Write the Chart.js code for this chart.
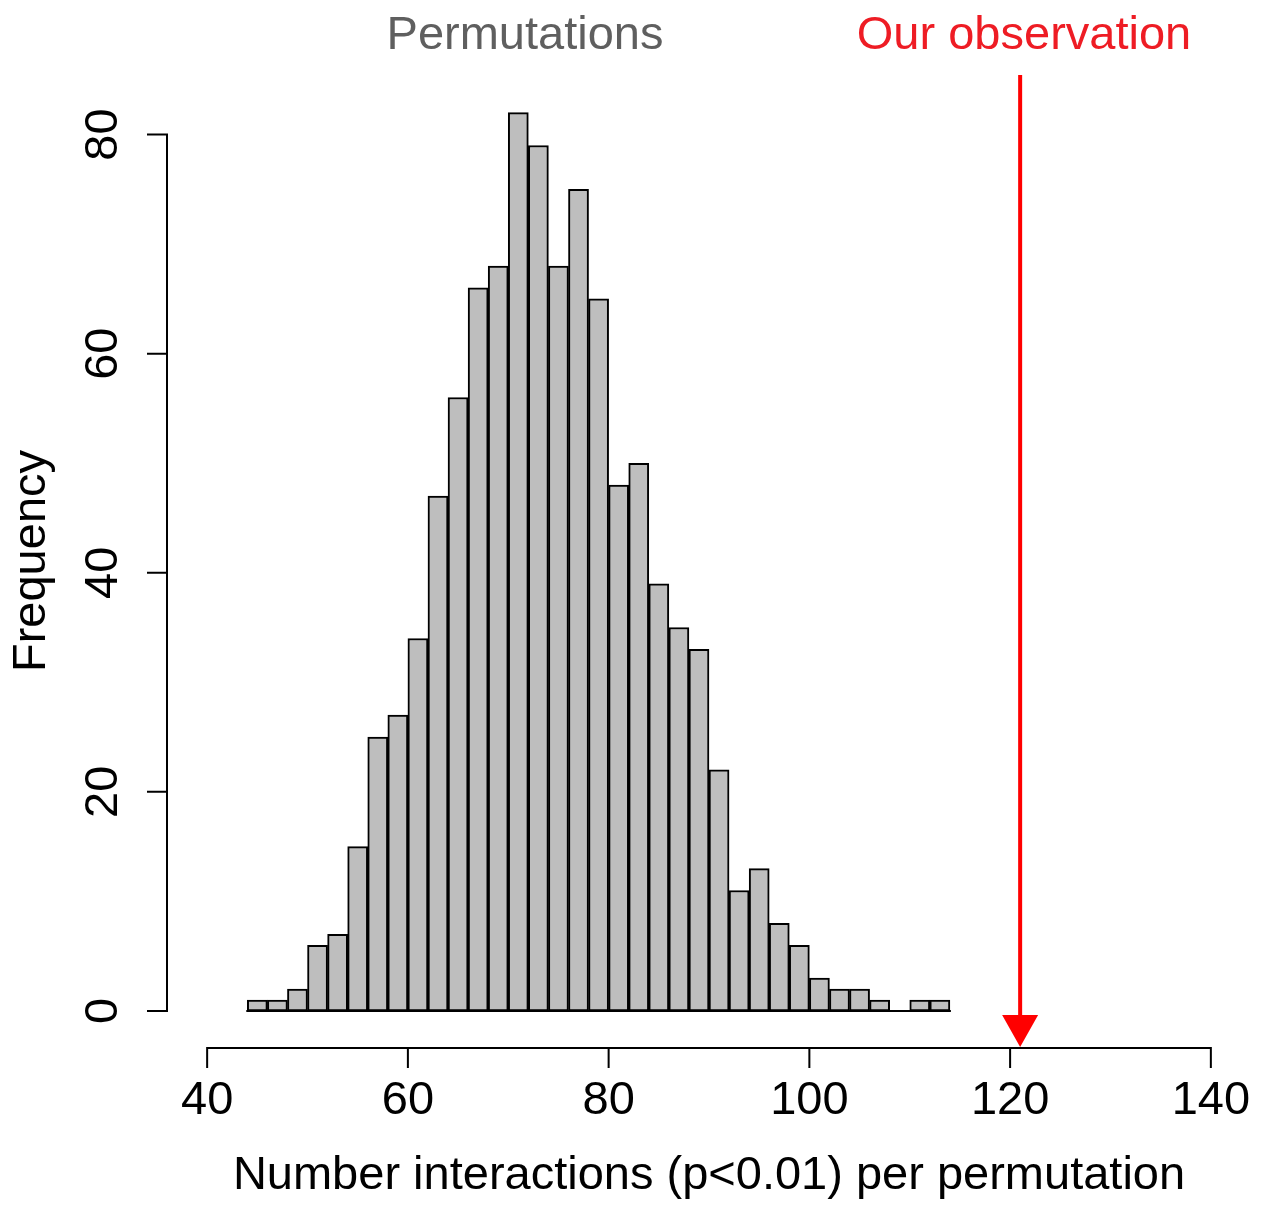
<!DOCTYPE html>
<html>
<head>
<meta charset="utf-8">
<title>Permutation histogram</title>
<script src="https://cdn.jsdelivr.net/npm/chart.js@4"></script>
<style>
  html, body { margin: 0; padding: 0; background: #fff; }
  #wrap { width: 1264px; height: 1214px; }
</style>
</head>
<body>
<div id="wrap"><canvas id="hist" width="1264" height="1214"></canvas></div>
<script>
// histogram bins (width 2) and their counts
const binStarts = [44, 46, 48, 50, 52, 54, 56, 58, 60, 62, 64, 66, 68, 70, 72, 74, 76, 78,
                   80, 82, 84, 86, 88, 90, 92, 94, 96, 98, 100, 102, 104, 106, 108, 110, 112];
const counts = [1, 1, 2, 6, 7, 15, 25, 27, 34, 47, 56, 66, 68, 82, 79, 68, 75, 65,
                48, 50, 39, 35, 33, 22, 11, 13, 8, 6, 3, 2, 2, 1, 0, 1, 1];
const binWidth = 2;

const xTicks = [40, 60, 80, 100, 120, 140];
const yTicks = [0, 20, 40, 60, 80];

const observed = 121;

const FONT = '"Liberation Sans", Arial, sans-serif';

// R-style detached axes, labels and the observation arrow
const baseAxes = {
    id: 'baseAxes',
    afterDraw(chart) {
        const ctx = chart.ctx;
        const xs = chart.scales.x;
        const ys = chart.scales.y;
        const area = chart.chartArea;
        const tick = 19;

        ctx.save();
        ctx.strokeStyle = '#000';
        ctx.fillStyle = '#000';
        ctx.lineWidth = 2;
        ctx.lineCap = 'square';

        // baseline under the bars (shows empty bins too)
        const y0 = ys.getPixelForValue(0);
        ctx.beginPath();
        ctx.moveTo(xs.getPixelForValue(binStarts[0]), y0);
        ctx.lineTo(xs.getPixelForValue(binStarts[binStarts.length - 1] + binWidth), y0);
        ctx.stroke();

        // x axis
        const xa = area.bottom;
        ctx.beginPath();
        ctx.moveTo(xs.getPixelForValue(xTicks[0]), xa);
        ctx.lineTo(xs.getPixelForValue(xTicks[xTicks.length - 1]), xa);
        xTicks.forEach(v => {
            const px = xs.getPixelForValue(v);
            ctx.moveTo(px, xa);
            ctx.lineTo(px, xa + tick);
        });
        ctx.stroke();

        ctx.font = '47px ' + FONT;
        ctx.textAlign = 'center';
        ctx.textBaseline = 'middle';
        xTicks.forEach(v => ctx.fillText(String(v), xs.getPixelForValue(v), 1101));

        // y axis
        const ya = area.left;
        ctx.beginPath();
        ctx.moveTo(ya, ys.getPixelForValue(yTicks[0]));
        ctx.lineTo(ya, ys.getPixelForValue(yTicks[yTicks.length - 1]));
        yTicks.forEach(v => {
            const py = ys.getPixelForValue(v);
            ctx.moveTo(ya, py);
            ctx.lineTo(ya - tick, py);
        });
        ctx.stroke();

        yTicks.forEach(v => {
            ctx.save();
            ctx.translate(104, ys.getPixelForValue(v));
            ctx.rotate(-Math.PI / 2);
            ctx.fillText(String(v), 0, 0);
            ctx.restore();
        });

        // axis titles
        ctx.fillText('Number interactions (p<0.01) per permutation', (area.left + area.right) / 2, 1176);
        ctx.save();
        ctx.translate(32, 561);
        ctx.rotate(-Math.PI / 2);
        ctx.fillText('Frequency', 0, 0);
        ctx.restore();

        // top labels
        ctx.fillStyle = '#5f5f5f';
        ctx.fillText('Permutations', 525, 36);
        ctx.fillStyle = '#ee1c24';
        ctx.fillText('Our observation', 1024, 36);

        // arrow down to the observed value
        const ax = xs.getPixelForValue(observed);
        const tip = area.bottom - 1;
        const headH = 32;
        const headW = 18;
        ctx.strokeStyle = '#ff0000';
        ctx.fillStyle = '#ff0000';
        ctx.lineWidth = 4;
        ctx.lineCap = 'butt';
        ctx.beginPath();
        ctx.moveTo(ax, 75);
        ctx.lineTo(ax, tip - headH + 2);
        ctx.stroke();
        ctx.beginPath();
        ctx.moveTo(ax - headW, tip - headH);
        ctx.lineTo(ax + headW, tip - headH);
        ctx.lineTo(ax, tip);
        ctx.closePath();
        ctx.fill();

        ctx.restore();
    }
};

const points = binStarts.map((s, i) => ({ x: s + binWidth / 2, y: counts[i] }));

new Chart(document.getElementById('hist'), {
    type: 'bar',
    data: {
        datasets: [{
            data: points,
            backgroundColor: '#bebebe',
            borderColor: '#000',
            borderWidth: 2,
            borderSkipped: false,
            barPercentage: 1,
            categoryPercentage: 1
        }]
    },
    options: {
        responsive: false,
        animation: false,
        devicePixelRatio: 1,
        layout: { padding: { left: 167, right: 13, top: 48, bottom: 166 } },
        plugins: {
            legend: { display: false },
            tooltip: { enabled: false }
        },
        scales: {
            x: { type: 'linear', min: 36, max: 144, display: false, offset: false },
            y: { type: 'linear', min: -3.38, max: 87.9, display: false }
        }
    },
    plugins: [baseAxes]
});
</script>
</body>
</html>
